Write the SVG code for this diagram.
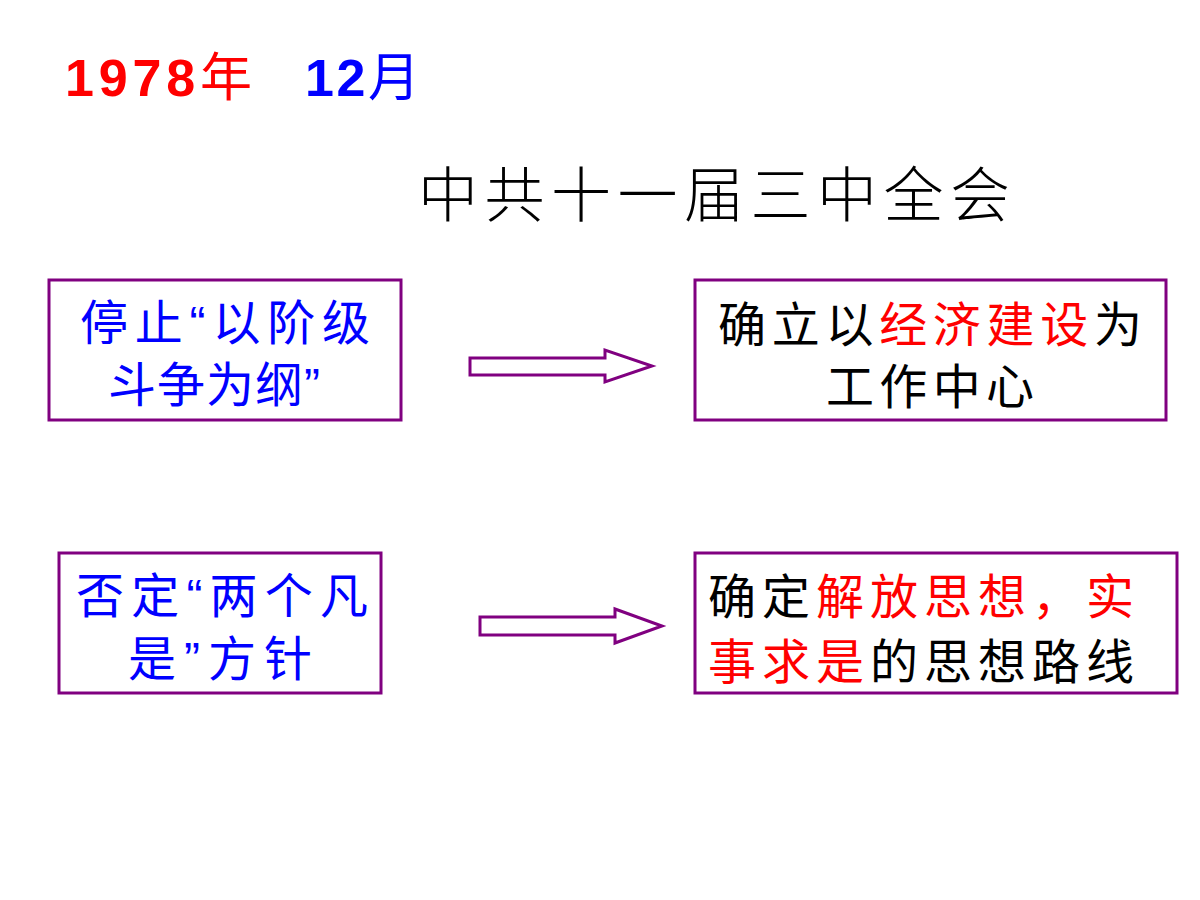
<svg xmlns="http://www.w3.org/2000/svg" width="1200" height="900" viewBox="0 0 1200 900">
<style>
.box{fill:#fff;stroke:#800080;stroke-width:3}
.arr{fill:#fff;stroke:#800080;stroke-width:3}
.t{font-family:"Liberation Sans","Noto Sans CJK SC",sans-serif;font-size:48px}
.b{fill:#0000ff}.r{fill:#ff0000}.k{fill:#000}
</style>
<rect width="1200" height="900" fill="#fff"/>
<text x="65" y="96" font-family="Liberation Sans,Noto Sans CJK SC,sans-serif" font-size="52" font-weight="bold" fill="#ff0000" textLength="187">1978<tspan font-weight="normal">年</tspan></text>
<text x="305" y="96" font-family="Liberation Sans,Noto Sans CJK SC,sans-serif" font-size="52" font-weight="bold" fill="#0000ff" textLength="115">12<tspan font-weight="normal">月</tspan></text>
<text x="418" y="217" font-family="Noto Sans CJK SC,sans-serif" font-size="60" font-weight="300" fill="#000" textLength="592">中共十一届三中全会</text>
<g id="n1"><rect class="box" x="49" y="280" width="352" height="140"/>
<text class="t b" x="80" y="340" textLength="290">停止“以阶级</text><text class="t b" x="108" y="402" textLength="212">斗争为纲”</text></g>
<g id="n2"><rect class="box" x="695" y="280" width="471" height="140"/>
<text class="t" x="718" y="342" textLength="424"><tspan class="k">确立以</tspan><tspan class="r">经济建设</tspan><tspan class="k">为</tspan></text><text class="t k" x="826" y="404" textLength="208">工作中心</text></g>
<g id="n3"><rect class="box" x="59" y="553" width="322" height="140"/>
<text class="t b" x="76" y="613" textLength="292">否定“两个凡</text><text class="t b" x="128" y="676" textLength="184">是”方针</text></g>
<g id="n4"><rect class="box" x="695" y="553" width="482" height="140"/>
<text class="t" x="708" y="614" textLength="426"><tspan class="k">确定</tspan><tspan class="r">解放思想，实</tspan></text><text class="t" x="708" y="679" textLength="426"><tspan class="r">事求是</tspan><tspan class="k">的思想路线</tspan></text></g>
<g id="connectors">
<polygon class="arr" points="470,358 605,358 605,350 652,366 605,382 605,375 470,375"/>
<polygon class="arr" points="480,617 615,617 615,609 662,626 615,643 615,635 480,635"/>
</g>
</svg>
